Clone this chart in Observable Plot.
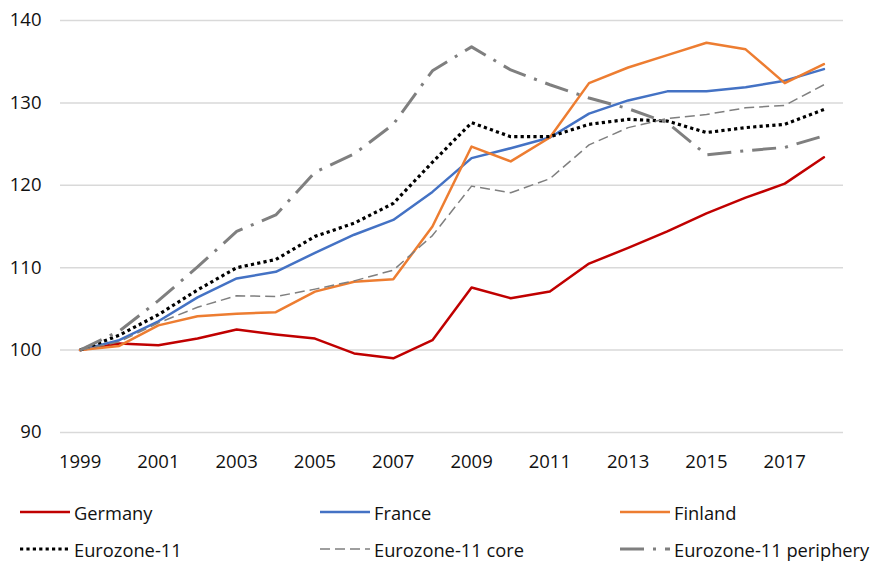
<!DOCTYPE html>
<html>
<head>
<meta charset="utf-8">
<script src="https://cdn.jsdelivr.net/npm/d3@7"></script>
<script src="https://cdn.jsdelivr.net/npm/@observablehq/plot@0.6"></script>
<style>
  body { margin: 0; background: #fff; font-family: "Open Sans", "Liberation Sans", sans-serif; }
  #wrap { position: relative; width: 875px; height: 561px; overflow: hidden; }
  .leg { position: absolute; display: flex; align-items: center; font-size: 18.3px; color: #111; white-space: nowrap; }
  .leg svg { margin-right: 4px; }
</style>
</head>
<body>
<div id="wrap"></div>
<script>
const years = d3.range(1999, 2019);
const seriesNames = ["Germany", "France", "Finland", "Eurozone-11", "Eurozone-11 core", "Eurozone-11 periphery"];
const germany   = [100, 100.8, 100.6, 101.4, 102.5, 101.9, 101.4, 99.6, 99.0, 101.2, 107.6, 106.3, 107.1, 110.5, 112.4, 114.4, 116.6, 118.5, 120.2, 123.4];
const france    = [100, 101.2, 103.5, 106.4, 108.7, 109.5, 111.8, 114.0, 115.8, 119.2, 123.3, 124.5, 125.8, 128.7, 130.3, 131.4, 131.4, 131.9, 132.7, 134.1];
const finland   = [100, 100.5, 103.0, 104.1, 104.4, 104.6, 107.1, 108.3, 108.6, 115.0, 124.7, 122.9, 125.8, 132.4, 134.3, 135.8, 137.3, 136.5, 132.4, 134.7];
const ez11      = [100, 101.8, 104.3, 107.3, 110.0, 111.0, 113.8, 115.4, 117.8, 122.8, 127.6, 125.9, 125.9, 127.4, 128.0, 127.8, 126.4, 127.0, 127.4, 129.2];
const ez11core  = [100, 101.0, 103.3, 105.2, 106.6, 106.5, 107.4, 108.4, 109.7, 113.9, 119.9, 119.1, 120.8, 124.9, 127.0, 128.1, 128.6, 129.4, 129.7, 132.2];
const ez11peri  = [100, 102.3, 106.0, 110.1, 114.4, 116.4, 121.6, 123.8, 127.4, 133.9, 136.8, 134.0, 132.2, 130.6, 129.3, 127.6, 123.7, 124.2, 124.6, 126.0];
const yTicks = [90, 100, 110, 120, 130, 140];
const xTicks = [1999, 2001, 2003, 2005, 2007, 2009, 2011, 2013, 2015, 2017];

const styles = {
  "Germany":               {stroke: "#c00000", strokeWidth: 2.5, dash: null, cap: "round"},
  "France":                {stroke: "#4472c4", strokeWidth: 2.5, dash: null, cap: "round"},
  "Finland":               {stroke: "#ed7d31", strokeWidth: 2.5, dash: null, cap: "round"},
  "Eurozone-11":           {stroke: "#000000", strokeWidth: 3.2, dash: "3.2 3.2", cap: "butt"},
  "Eurozone-11 core":      {stroke: "#7f7f7f", strokeWidth: 1.5, dash: "10 5", cap: "butt"},
  "Eurozone-11 periphery": {stroke: "#7f7f7f", strokeWidth: 3, dash: "24 9 3 9", cap: "butt"}
};
const seriesValues = [germany, france, finland, ez11, ez11core, ez11peri];
const rows = seriesNames.map((name, i) => years.map((yr, j) => ({name, year: yr, value: seriesValues[i][j]})));

const lineMarks = rows.map((data, i) => {
  const s = styles[seriesNames[i]];
  return Plot.line(data, {
    x: "year", y: "value", stroke: s.stroke, strokeWidth: s.strokeWidth,
    strokeDasharray: s.dash || undefined, strokeLinecap: s.cap, strokeLinejoin: "round"
  });
});

const chart = Plot.plot({
  width: 875,
  height: 480,
  marginLeft: 60,
  marginRight: 32,
  marginTop: 20,
  marginBottom: 48,
  style: {fontFamily: "'Open Sans', 'Liberation Sans', sans-serif", fontSize: "18.5px", color: "#111", background: "#fff"},
  x: {domain: [1998.5, 2018.5], ticks: xTicks, tickFormat: d => String(d), tickSize: 0, tickPadding: 22, label: null},
  y: {domain: [90, 140], ticks: yTicks, tickSize: 0, tickPadding: 19, label: null},
  marks: [
    Plot.ruleY(yTicks, {stroke: "#d9d9d9", strokeWidth: 1.5}),
    ...lineMarks
  ]
});
const wrap = document.getElementById("wrap");
wrap.appendChild(chart);

// Legend below the SVG
const legPos = [
  [20, 513], [320, 513], [620, 513],
  [20, 550], [320, 550], [620, 550]
];
seriesNames.forEach((name, i) => {
  const s = styles[name];
  const div = document.createElement("div");
  div.className = "leg";
  div.style.left = legPos[i][0] + "px";
  div.style.top = (legPos[i][1] - 13) + "px";
  div.style.height = "24px";
  const svg = d3.create("svg").attr("width", 50).attr("height", 10);
  svg.append("line").attr("x1", 0).attr("x2", 50).attr("y1", 5).attr("y2", 5)
    .attr("stroke", s.stroke).attr("stroke-width", s.strokeWidth)
    .attr("stroke-dasharray", s.dash).attr("stroke-linecap", "butt");
  div.appendChild(svg.node());
  const span = document.createElement("span");
  span.textContent = name;
  div.appendChild(span);
  wrap.appendChild(div);
});
</script>
</body>
</html>
